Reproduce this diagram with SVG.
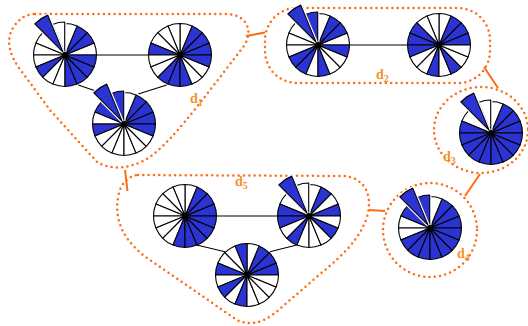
<svg xmlns="http://www.w3.org/2000/svg" xmlns:xlink="http://www.w3.org/1999/xlink" width="528" height="326" viewBox="0 0 528 326">
<style>
.b{fill:#2b34d2;stroke:#000;stroke-width:1.1;stroke-linejoin:round}
.w{fill:#fff;stroke:#000;stroke-width:1.1;stroke-linejoin:round}
.h{fill:#fff;stroke:#fff;stroke-width:3.5;stroke-linejoin:round}
.dot{fill:#000}
.grp{fill:none;stroke:#ff6a13;stroke-width:2.5;stroke-linecap:round;stroke-dasharray:0 5.3}
.ol{stroke:#ff6a13;stroke-width:2;fill:none}
.cl{stroke:#000;stroke-width:1.1;fill:none}
.lab{font-family:"Liberation Serif",serif;font-weight:bold;font-size:14px;fill:#f39325}
.sub{font-size:10px}
</style>
<defs>
<path id="s0" d="M0 0L31.5 0A31.5 31.5 0 0 0 29.1 -12.05Z"/>
<path id="s1" d="M0 0L29.1 -12.05A31.5 31.5 0 0 0 22.27 -22.27Z"/>
<path id="s2" d="M0 0L22.27 -22.27A31.5 31.5 0 0 0 12.05 -29.1Z"/>
<path id="s3" d="M0 0L12.05 -29.1A31.5 31.5 0 0 0 0 -31.5Z"/>
<path id="s4" d="M0 0L0 -31.5A31.5 31.5 0 0 0 -12.05 -29.1Z"/>
<path id="s5" d="M0 0L-12.05 -29.1A31.5 31.5 0 0 0 -22.27 -22.27Z"/>
<path id="s6" d="M0 0L-22.27 -22.27A31.5 31.5 0 0 0 -29.1 -12.05Z"/>
<path id="s7" d="M0 0L-29.1 -12.05A31.5 31.5 0 0 0 -31.5 0Z"/>
<path id="s8" d="M0 0L-31.5 0A31.5 31.5 0 0 0 -29.1 12.05Z"/>
<path id="s9" d="M0 0L-29.1 12.05A31.5 31.5 0 0 0 -22.27 22.27Z"/>
<path id="s10" d="M0 0L-22.27 22.27A31.5 31.5 0 0 0 -12.05 29.1Z"/>
<path id="s11" d="M0 0L-12.05 29.1A31.5 31.5 0 0 0 0 31.5Z"/>
<path id="s12" d="M0 0L0 31.5A31.5 31.5 0 0 0 12.05 29.1Z"/>
<path id="s13" d="M0 0L12.05 29.1A31.5 31.5 0 0 0 22.27 22.27Z"/>
<path id="s14" d="M0 0L22.27 22.27A31.5 31.5 0 0 0 29.1 12.05Z"/>
<path id="s15" d="M0 0L29.1 12.05A31.5 31.5 0 0 0 31.5 0Z"/>
<path id="s5L" d="M0 0L-15.31 -36.96A40 40 0 0 0 -28.28 -28.28Z"/>
</defs>
<rect width="528" height="326" fill="#fff"/>

<g id="d1">
<path class="grp" d="M35,14 L226,14 C246,14 254,30 244,46 L200,103 C180,128 162,150 145,160 C128,169 110,170 97,162 L50,110 L22,72 C8,54 5,38 15,25 C21,17 28,14 35,14 Z"/>
<text class="lab" x="190" y="103">d<tspan class="sub" dy="3">1</tspan></text>
</g>
<g id="d2">
<rect class="grp" x="265" y="8" width="225" height="75" rx="32"/>
<text class="lab" x="376" y="79">d<tspan class="sub" dy="3">2</tspan></text>
</g>
<g id="d3">
<ellipse class="grp" cx="481" cy="130" rx="47" ry="43"/>
<text class="lab" x="443" y="161">d<tspan class="sub" dy="3">3</tspan></text>
</g>
<g id="d4">
<ellipse class="grp" cx="430" cy="230" rx="47" ry="47"/>
<text class="lab" x="457" y="258">d<tspan class="sub" dy="3">4</tspan></text>
</g>
<g id="d5">
<path class="grp" d="M138,175 L343,176 C366,177 374,198 366,220 C358,240 345,252 333,263 L275,313 C262,323 250,326 237,320 L150,260 C125,243 114,222 118,198 C120,184 128,176 138,175 Z"/>
<text class="lab" x="235" y="186">d<tspan class="sub" dy="3">5</tspan></text>
</g>

<g id="connectors">
<line class="ol" x1="246" y1="36" x2="265" y2="32.5"/>
<line class="ol" x1="484" y1="67" x2="498" y2="88"/>
<line class="ol" x1="480" y1="174" x2="465" y2="196"/>
<line class="ol" x1="369" y1="210" x2="385" y2="211"/>
<line class="ol" x1="125" y1="170" x2="127.5" y2="191"/>
<line class="cl" x1="96" y1="55" x2="149" y2="55"/>
<line class="cl" x1="78.3" y1="85" x2="95" y2="90.7"/>
<line class="cl" x1="138.3" y1="94" x2="166.7" y2="85"/>
<line class="cl" x1="349" y1="45" x2="408" y2="45"/>
<line class="cl" x1="216" y1="216" x2="278" y2="216"/>
<line class="cl" x1="196.7" y1="245" x2="225" y2="251.7"/>
<line class="cl" x1="270" y1="251.7" x2="296.7" y2="245"/>
</g>

<g id="w1" transform="translate(65 55)">
<use href="#s0" class="w"/><use href="#s1" class="b"/><use href="#s2" class="b"/><use href="#s3" class="w"/>
<use href="#s6" class="w"/><use href="#s7" class="w"/><use href="#s8" class="w"/><use href="#s9" class="b"/>
<use href="#s10" class="w"/><use href="#s11" class="w"/><use href="#s12" class="b"/><use href="#s13" class="b"/>
<use href="#s14" class="b"/><use href="#s15" class="b"/>
<g transform="translate(-0.3 -1.5)"><use href="#s4" class="h"/><use href="#s4" class="w"/></g>
<g transform="translate(-1.94 -2.91)"><use href="#s5L" class="h"/><use href="#s5L" class="b"/></g>
<circle class="dot" r="3"/>
</g>

<g id="w2" transform="translate(180 55)">
<use href="#s0" class="b"/><use href="#s1" class="b"/><use href="#s2" class="b"/><use href="#s3" class="w"/>
<use href="#s4" class="w"/><use href="#s5" class="w"/><use href="#s6" class="w"/><use href="#s7" class="b"/>
<use href="#s8" class="w"/><use href="#s9" class="w"/><use href="#s10" class="b"/><use href="#s11" class="b"/>
<use href="#s12" class="b"/><use href="#s13" class="w"/><use href="#s14" class="w"/><use href="#s15" class="b"/>
<circle class="dot" r="3"/>
</g>

<g id="w3" transform="translate(124 124)">
<use href="#s0" class="b"/><use href="#s1" class="b"/><use href="#s2" class="b"/><use href="#s3" class="w"/>
<use href="#s6" class="b"/><use href="#s7" class="w"/><use href="#s8" class="b"/><use href="#s9" class="w"/>
<use href="#s10" class="w"/><use href="#s11" class="w"/><use href="#s12" class="w"/><use href="#s13" class="w"/>
<use href="#s14" class="w"/><use href="#s15" class="b"/>
<g transform="translate(-0.3 -1.5)"><use href="#s4" class="h"/><use href="#s4" class="b"/></g>
<g transform="translate(-1.94 -2.91)"><use href="#s5L" class="h"/><use href="#s5L" class="b"/></g>
<circle class="dot" r="3"/>
</g>

<g id="w4" transform="translate(318 45)">
<use href="#s0" class="w"/><use href="#s1" class="b"/><use href="#s2" class="b"/><use href="#s3" class="w"/>
<use href="#s6" class="w"/><use href="#s7" class="w"/><use href="#s8" class="w"/><use href="#s9" class="b"/>
<use href="#s10" class="b"/><use href="#s11" class="w"/><use href="#s12" class="b"/><use href="#s13" class="w"/>
<use href="#s14" class="w"/><use href="#s15" class="b"/>
<g transform="translate(-0.3 -1.5)"><use href="#s4" class="h"/><use href="#s4" class="b"/></g>
<g transform="translate(-1.94 -2.91)"><use href="#s5L" class="h"/><use href="#s5L" class="b"/></g>
<circle class="dot" r="3"/>
</g>

<g id="w5" transform="translate(439 45)">
<use href="#s0" class="b"/><use href="#s1" class="b"/><use href="#s2" class="b"/><use href="#s3" class="w"/>
<use href="#s4" class="w"/><use href="#s5" class="w"/><use href="#s6" class="b"/><use href="#s7" class="b"/>
<use href="#s8" class="b"/><use href="#s9" class="w"/><use href="#s10" class="w"/><use href="#s11" class="b"/>
<use href="#s12" class="w"/><use href="#s13" class="b"/><use href="#s14" class="w"/><use href="#s15" class="w"/>
<circle class="dot" r="3"/>
</g>

<g id="w6" transform="translate(491 133)">
<use href="#s0" class="b"/><use href="#s1" class="b"/><use href="#s2" class="b"/><use href="#s3" class="w"/>
<use href="#s6" class="w"/><use href="#s7" class="b"/><use href="#s8" class="b"/><use href="#s9" class="b"/>
<use href="#s10" class="b"/><use href="#s11" class="b"/><use href="#s12" class="b"/><use href="#s13" class="b"/>
<use href="#s14" class="b"/><use href="#s15" class="b"/>
<g transform="translate(-0.3 -1.5)"><use href="#s4" class="h"/><use href="#s4" class="w"/></g>
<g transform="translate(-1.94 -2.91)"><use href="#s5L" class="h"/><use href="#s5L" class="b"/></g>
<circle class="dot" r="3"/>
</g>

<g id="w7" transform="translate(430 228)">
<use href="#s0" class="b"/><use href="#s1" class="b"/><use href="#s2" class="b"/><use href="#s3" class="w"/>
<use href="#s6" class="b"/><use href="#s7" class="w"/><use href="#s8" class="w"/><use href="#s9" class="b"/>
<use href="#s10" class="b"/><use href="#s11" class="b"/><use href="#s12" class="b"/><use href="#s13" class="b"/>
<use href="#s14" class="b"/><use href="#s15" class="b"/>
<g transform="translate(-0.3 -1.5)"><use href="#s4" class="h"/><use href="#s4" class="b"/></g>
<g transform="translate(-1.94 -2.91)"><use href="#s5L" class="h"/><use href="#s5L" class="b"/></g>
<circle class="dot" r="3"/>
</g>

<g id="w8" transform="translate(185 216)">
<use href="#s0" class="b"/><use href="#s1" class="b"/><use href="#s2" class="b"/><use href="#s3" class="w"/>
<use href="#s4" class="w"/><use href="#s5" class="w"/><use href="#s6" class="w"/><use href="#s7" class="w"/>
<use href="#s8" class="w"/><use href="#s9" class="w"/><use href="#s10" class="w"/><use href="#s11" class="b"/>
<use href="#s12" class="b"/><use href="#s13" class="b"/><use href="#s14" class="b"/><use href="#s15" class="b"/>
<circle class="dot" r="3"/>
</g>

<g id="w9" transform="translate(309 216)">
<use href="#s0" class="b"/><use href="#s1" class="w"/><use href="#s2" class="b"/><use href="#s3" class="w"/>
<use href="#s6" class="w"/><use href="#s7" class="b"/><use href="#s8" class="b"/><use href="#s9" class="w"/>
<use href="#s10" class="b"/><use href="#s11" class="w"/><use href="#s12" class="w"/><use href="#s13" class="w"/>
<use href="#s14" class="b"/><use href="#s15" class="w"/>
<g transform="translate(-0.3 -1.5)"><use href="#s4" class="h"/><use href="#s4" class="w"/></g>
<g transform="translate(-1.94 -2.91)"><use href="#s5L" class="h"/><use href="#s5L" class="b"/></g>
<circle class="dot" r="3"/>
</g>

<g id="w10" transform="translate(247 275)">
<use href="#s0" class="b"/><use href="#s1" class="b"/><use href="#s2" class="b"/><use href="#s3" class="w"/>
<use href="#s4" class="b"/><use href="#s5" class="w"/><use href="#s6" class="w"/><use href="#s7" class="b"/>
<use href="#s8" class="w"/><use href="#s9" class="b"/><use href="#s10" class="w"/><use href="#s11" class="b"/>
<use href="#s12" class="w"/><use href="#s13" class="w"/><use href="#s14" class="w"/><use href="#s15" class="w"/>
<circle class="dot" r="3"/>
</g>
</svg>
